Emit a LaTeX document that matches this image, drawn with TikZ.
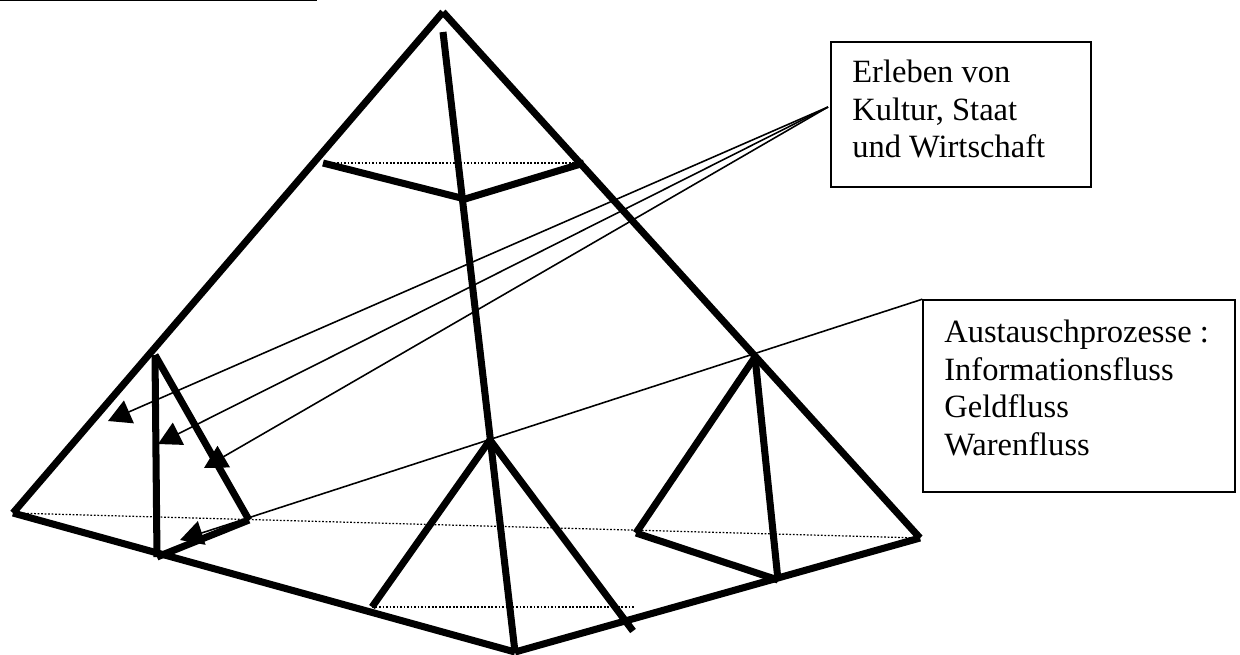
\documentclass[tikz,border=0pt]{standalone}
\usepackage{fontspec}
\setmainfont{Liberation Serif}
\usetikzlibrary{arrows.meta}
\tikzset{
  heavy/.style={line width=4pt},
  hidden/.style={line width=0.7pt,dash pattern=on 1pt off 1pt},
  pointer/.style={line width=0.9pt,-{Triangle[length=13pt,width=14pt]}},
  infobox/.style={draw,line width=0.9pt,fill=white,inner sep=0pt},
  boxtext/.style={font=\fontsize{18.5}{21.3}\selectfont,align=left,inner sep=0pt,anchor=north west}
}
\begin{document}
\begin{tikzpicture}[x=0.02cm,y=-0.02cm]
  \useasboundingbox (0,0) rectangle (1240,654);
  % outer pyramid
  \coordinate (apex) at (443,12);
  \coordinate (axis) at (443,32);
  \coordinate (left) at (13,513);
  \coordinate (front) at (515,652);
  \coordinate (right) at (920,538);
  % cut near the top
  \coordinate (c1) at (323,163);
  \coordinate (c2) at (465,199);
  \coordinate (c3) at (584,163);
  % small pyramid, left
  \coordinate (l1) at (155,355);
  \coordinate (l2) at (157,557);
  \coordinate (l3) at (249,520);
  % small pyramid, middle
  \coordinate (m1) at (490,440);
  \coordinate (m2) at (372,607);
  \coordinate (m3) at (633,631);
  % small pyramid, right
  \coordinate (r1) at (755,357);
  \coordinate (r2) at (636,533);
  \coordinate (r3) at (778,580);
  % rule at the top edge
  \coordinate (ruleA) at (0,0);
  \coordinate (ruleB) at (317,0);
  \draw[line width=1.2pt] (ruleA) -- (ruleB);
  % hidden edges
  \draw[hidden] (left) -- (right);
  \draw[hidden] (c1) -- (c3);
  \draw[hidden] (m2) -- (635,607);
  % pyramid edges
  \draw[heavy] (apex) -- (left);
  \draw[heavy] (apex) -- (right);
  \draw[heavy] (left) -- (front);
  \draw[heavy] (front) -- (right);
  \draw[heavy] (axis) -- (front);
  \draw[heavy] (c1) -- (c2);
  \draw[heavy] (c2) -- (c3);
  \draw[heavy] (l1) -- (l2);
  \draw[heavy] (l1) -- (l3);
  \draw[heavy] (l2) -- (l3);
  \draw[heavy] (m1) -- (m2);
  \draw[heavy] (m1) -- (m3);
  \draw[heavy] (r1) -- (r2);
  \draw[heavy] (r1) -- (r3);
  \draw[heavy] (r2) -- (r3);
  % boxes
  \node[infobox,minimum width=5.2cm,minimum height=2.9cm] (kultur) at (961,114.5) {};
  \node[boxtext] (kulturtext) at (852,60) {Erleben von\\Kultur, Staat\\und Wirtschaft};
  \node[infobox,minimum width=6.24cm,minimum height=3.84cm] (fluss) at (1079,396) {};
  \node[boxtext] (flusstext) at (944,320) {Austauschprozesse :\\Informationsfluss\\Geldfluss\\Warenfluss};
  % pointers
  \coordinate (from) at (828,107);
  \coordinate (t1) at (108,421);
  \coordinate (t2) at (158,444);
  \coordinate (t3) at (204,468);
  \coordinate (t4) at (180,540);
  \draw[pointer] (from) -- (t1);
  \draw[pointer] (from) -- (t2);
  \draw[pointer] (from) -- (t3);
  \draw[pointer] (fluss.north west) -- (t4);
\end{tikzpicture}
\end{document}
